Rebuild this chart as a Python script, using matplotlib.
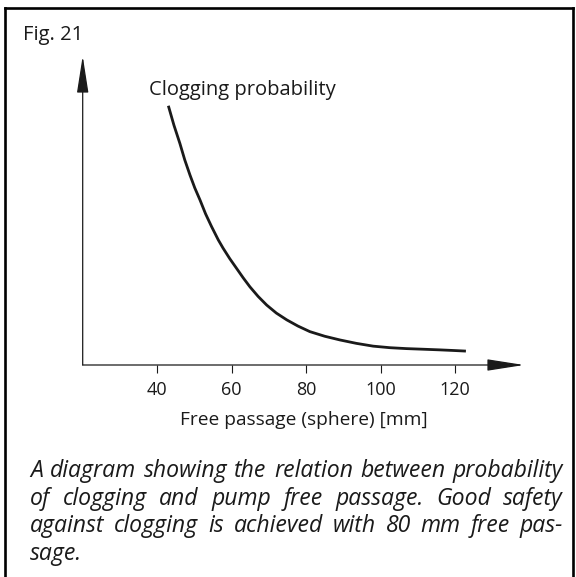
import matplotlib
matplotlib.use("Agg")
import matplotlib.pyplot as plt
from matplotlib.lines import Line2D

plt.rcParams['font.family'] = ['Open Sans', 'DejaVu Sans']

# Curve (free passage in mm, relative clogging probability)
passage = [43.0, 44.5, 46.1, 47.4, 48.8, 50.1, 51.5, 53.0, 54.6, 56.4, 57.7,
           59.5, 61.3, 63.1, 64.9, 67.1, 69.4, 72.0, 74.8, 77.8, 81.0, 85.0,
           89.1, 93.5, 98.0, 102.5, 107.0, 111.5, 115.8, 119.5, 122.9]
probability = [83.9, 77.6, 71.7, 66.4, 61.5, 57.3, 53.4, 48.9, 44.8, 40.5, 37.8,
               34.4, 31.3, 28.2, 25.3, 22.2, 19.4, 16.8, 14.6, 12.6, 10.8, 9.3,
               8.1, 7.0, 6.1, 5.6, 5.3, 5.1, 4.9, 4.7, 4.5]
tick_values = [40, 60, 80, 100, 120]
tick_labels = ["40", "60", "80", "100", "120"]

caption_lines = [
    "A diagram showing the relation between probability",
    "of clogging and pump free passage. Good safety",
    "against clogging is achieved with 80 mm free pas-",
    "sage.",
]

W, H = 576, 577
fig = plt.figure(figsize=(W / 100, H / 100), dpi=100)

def fx(px):
    return px / W

def fy(py):
    return 1 - py / H

ink = '#1a1a1a'

# axes: origin at pixel (82.7, 365), x arrow tip at 524, y arrow tip at 56
ax = fig.add_axes([fx(82.7), fy(365), (524 - 82.7) / W, (365 - 56) / H])
ax.set_xlim(20, 138.5)
ax.set_ylim(0, 100)
for s in ax.spines.values():
    s.set_visible(False)
ax.set_yticks([])
ax.set_xticks(tick_values)
ax.set_xticklabels(tick_labels)
ax.tick_params(axis='x', direction='out', length=5.5, width=0.8, pad=6,
               labelsize=13, colors=ink)
ax.patch.set_alpha(0)

arrow = dict(arrowstyle="-|>,head_length=2.3,head_width=0.36", color=ink,
             lw=0.9, shrinkA=0, shrinkB=0, mutation_scale=10)
ax.annotate("", xy=(1, 0), xytext=(0, 0), xycoords='axes fraction', arrowprops=arrow,
            annotation_clip=False)
ax.annotate("", xy=(0, 1), xytext=(0, 0), xycoords='axes fraction', arrowprops=arrow,
            annotation_clip=False)

ax.plot(passage, probability, color=ink, lw=2.0, solid_capstyle='butt', clip_on=False)

# texts
fig.text(fx(23), fy(40), "Fig. 21", fontsize=14.5, color=ink, va='baseline')
fig.text(fx(149), fy(95), "Clogging probability", fontsize=14.5, color=ink, va='baseline')
fig.text(fx(304), fy(425), "Free passage (sphere) [mm]", fontsize=13.8, color=ink,
         va='baseline', ha='center')

# frame (open at the bottom)
lw = 1.9
fig.add_artist(Line2D([fx(5), fx(5)], [0, fy(8)], color='black', lw=lw, solid_capstyle='projecting'))
fig.add_artist(Line2D([fx(5), fx(573)], [fy(8), fy(8)], color='black', lw=lw, solid_capstyle='projecting'))
fig.add_artist(Line2D([fx(573), fx(573)], [0, fy(8)], color='black', lw=lw, solid_capstyle='projecting'))

# justified italic caption
left, right = 30, 563
baselines = [477, 505, 532, 560]
renderer = fig.canvas.get_renderer()
for i, line in enumerate(caption_lines):
    words = line.split()
    texts = [fig.text(0, fy(baselines[i]), w, fontsize=16.6, style='italic',
                      color=ink, va='baseline') for w in words]
    widths = [t.get_window_extent(renderer).width for t in texts]
    if i < len(caption_lines) - 1 and len(words) > 1:
        gap = (right - left - sum(widths)) / (len(words) - 1)
    else:
        gap = 5
    x = left
    for t, w in zip(texts, widths):
        t.set_x(fx(x))
        x += w + gap

fig.savefig("out.png", dpi=100, facecolor='white')
